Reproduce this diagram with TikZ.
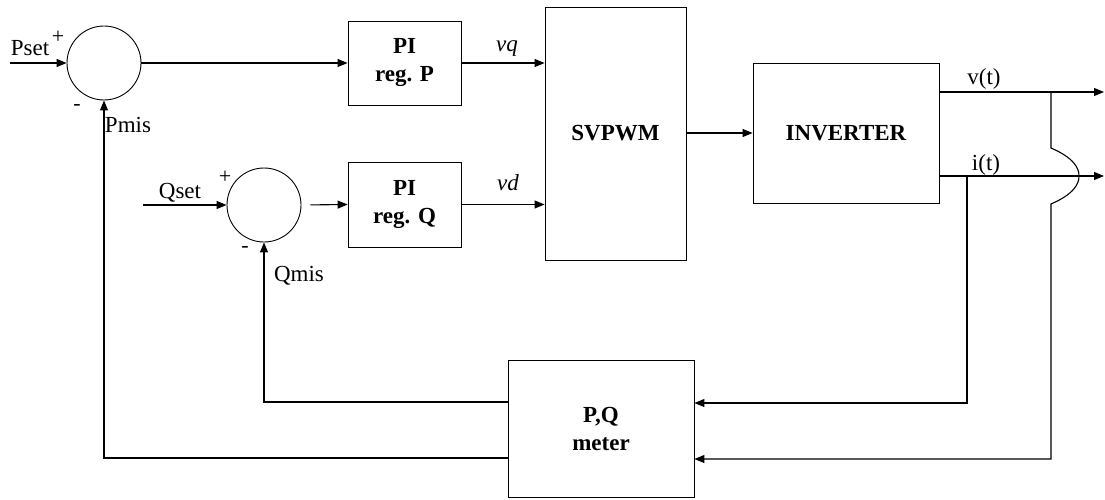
\documentclass[tikz,border=0pt]{standalone}
\usepackage{fontspec}
\setmainfont{Liberation Serif}
\usetikzlibrary{arrows.meta}
\begin{document}
\begin{tikzpicture}[x=1pt,y=-1pt,
  blk/.style={draw, line width=0.9pt, inner sep=0pt, align=center, font=\fontsize{23}{28}\selectfont\bfseries},
  sumj/.style={draw, circle, line width=0.9pt, minimum size=74pt, inner sep=0pt},
  lbl/.style={font=\fontsize{23}{27}\selectfont, anchor=base, inner sep=0pt},
  lbli/.style={font=\fontsize{23}{27}\selectfont\itshape, anchor=base, inner sep=0pt},
  sgn/.style={font=\fontsize{22}{24}\selectfont, inner sep=0pt},
  wire/.style={line width=1.1pt},
  arr/.style={wire, -{Triangle[length=10pt,width=8pt]}}]
\useasboundingbox (0,0) rectangle (1105,500);

% blocks
\node[sumj] (s1) at (104,63) {};
\node[sumj] (s2) at (264,205) {};
\node[blk, minimum width=113pt, minimum height=84pt] (pp) at (404.5,63) {PI\\reg. P};
\node[blk, minimum width=113pt, minimum height=85pt] (pq) at (404.5,204.5) {PI\\reg. Q};
\node[blk, minimum width=141pt, minimum height=253pt] (sv) at (615.5,133.5) {SVPWM};
\node[blk, minimum width=186pt, minimum height=140pt] (inv) at (846,133) {INVERTER};
\node[blk, minimum width=186pt, minimum height=137pt] (pqm) at (601,428.5) {P,Q\\meter};

% coordinates
\coordinate (pin) at (10,63);
\coordinate (qin) at (143,205);
\coordinate (vend) at (1104,92);
\coordinate (iend) at (1104,176);
\coordinate (vtap) at (1051,92);
\coordinate (itap) at (967,176);
\coordinate (ifb) at (967,403);
\coordinate (vfb) at (1051,459);
\coordinate (qfb) at (264,402);
\coordinate (pfb) at (104,458);

% forward path
\draw[arr] (pin) -- (s1.west);
\draw[arr] (s1.east) -- (pp.west);
\draw[arr] (pp.east) -- (pp.east -| sv.west);
\draw[arr] (qin) -- (s2.west);
\draw[arr, shorten <=9pt] (s2.east) -- (pq.west);
\draw[arr] (pq.east) -- (pq.east -| sv.west);
\draw[arr] (sv.east |- inv.west) -- (inv.west);
\draw[arr] (inv.east |- vend) -- (vend);
\draw[arr] (inv.east |- iend) -- (iend);

% feedback
\draw[arr] (itap) -- (ifb) -- (ifb -| pqm.east);
\draw[arr] (vtap) -- (1051,148) .. controls (1074,158) and (1079,168) .. (1079,176)
  .. controls (1079,184) and (1074,194) .. (1051,204) -- (vfb) -- (vfb -| pqm.east);
\draw[arr] (qfb -| pqm.west) -- (qfb) -- (s2.south);
\draw[arr] (pfb -| pqm.west) -- (pfb) -- (s1.south);

% labels
\node[lbl] (tpset) at (30,56) {Pset};
\node[sgn] (tp1) at (58,37) {+};
\node[sgn] (tm1) at (77,107) {-};
\node[lbl] (tpmis) at (128,132) {Pmis};
\node[lbl] (tqset) at (180,198) {Qset};
\node[sgn] (tp2) at (225,177) {+};
\node[sgn] (tm2) at (245,249) {-};
\node[lbl] (tqmis) at (299,281) {Qmis};
\node[lbli] (tvq) at (507,52) {vq};
\node[lbli] (tvd) at (508,190) {vd};
\node[lbl] (tv) at (984,85) {v(t)};
\node[lbl] (ti) at (986,170) {i(t)};
\end{tikzpicture}
\end{document}
